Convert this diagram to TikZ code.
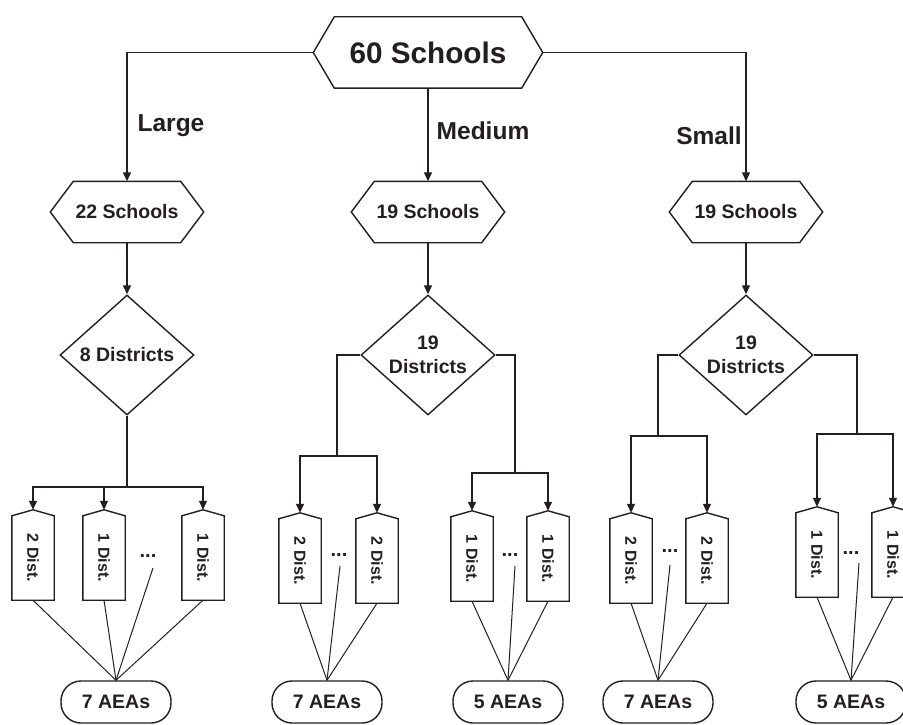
\documentclass[tikz,border=0pt]{standalone}
\usepackage{fontspec}
\setmainfont{Liberation Sans}
\usetikzlibrary{arrows.meta,shapes.geometric,calc}
\definecolor{ink}{RGB}{35,31,32}
\newcommand\hexoutline[2]{\draw[shapeline] (#1.north west) -- (#1.north east) -- ([xshift=#2]#1.east) -- (#1.south east) -- (#1.south west) -- ([xshift=-#2]#1.west) -- cycle;}
\newcommand\distoutline[1]{\draw[shapeline] (#1.north west) -- ([yshift=6pt]#1.north) -- (#1.north east) -- (#1.south east) -- (#1.south west) -- cycle;}
\begin{document}
\begin{tikzpicture}[x=1pt,y=-1pt,
  every node/.style={text=ink},
  conn/.style={line width=1.3pt, draw=ink},
  arr/.style={conn, -{Triangle[length=9pt,width=8pt]}},
  thinline/.style={line width=1pt, draw=ink},
  shapeline/.style={line width=1.4pt, draw=ink},
  hexbig/.style={inner sep=0, minimum width=187pt, minimum height=71pt, font=\fontsize{29.7}{34}\selectfont\bfseries},
  hexsmall/.style={inner sep=0, minimum width=107pt, minimum height=61pt, font=\fontsize{19.5}{24}\selectfont\bfseries},
  dia/.style={diamond, shapeline, inner sep=0, minimum width=134pt, minimum height=120pt, align=center, font=\fontsize{19.5}{24}\selectfont\bfseries},
  distbox/.style={inner sep=0, minimum width=42pt, minimum height=84pt, font=\fontsize{16}{19}\selectfont\bfseries},
  aea/.style={shapeline, rounded corners=20pt, minimum width=110pt, minimum height=42pt, inner sep=0, font=\fontsize{19.5}{24}\selectfont\bfseries},
  lab/.style={inner sep=0, font=\fontsize{24.5}{28}\selectfont\bfseries},
  dotsnode/.style={inner sep=0, font=\fontsize{20}{22}\selectfont\bfseries}
]
\useasboundingbox[fill=white] (0,0) rectangle (903,725);

% top
\node[hexbig] (top) at (428,52.5) {60 Schools};
\hexoutline{top}{21pt}
\coordinate (topL) at ([xshift=-21pt]top.west);
\coordinate (topR) at ([xshift=21pt]top.east);

% school hexagons
\node[hexsmall] (h1) at (127,212) {22 Schools};
\node[hexsmall] (h2) at (428,212) {19 Schools};
\node[hexsmall] (h3) at (746,212) {19 Schools};
\hexoutline{h1}{23pt}
\hexoutline{h2}{23pt}
\hexoutline{h3}{23pt}

% labels
\node[lab] (lLarge) at (171,126) {Large};
\node[lab] (lMedium) at (483,131) {Medium};
\node[lab] (lSmall) at (709,136) {Small};

% diamonds
\node[dia, draw] (d1) at (127,355) {8 Districts};
\node[dia, draw] (d2) at (428,355) {19\\Districts};
\node[dia, draw] (d3) at (746,355) {19\\Districts};

% district boxes
\node[distbox] (b11) at (33,558) {\rotatebox{-90}{2 Dist.}};
\node[distbox] (b12) at (104,558) {\rotatebox{-90}{1 Dist.}};
\node[distbox] (b13) at (203,558) {\rotatebox{-90}{1 Dist.}};
\node[distbox] (b21) at (300,561) {\rotatebox{-90}{2 Dist.}};
\node[distbox] (b22) at (377,561) {\rotatebox{-90}{2 Dist.}};
\node[distbox] (b31) at (472,559) {\rotatebox{-90}{1 Dist.}};
\node[distbox] (b32) at (548,559) {\rotatebox{-90}{1 Dist.}};
\node[distbox] (b41) at (631,561) {\rotatebox{-90}{2 Dist.}};
\node[distbox] (b42) at (707,561) {\rotatebox{-90}{2 Dist.}};
\node[distbox] (b51) at (817,555) {\rotatebox{-90}{1 Dist.}};
\node[distbox] (b52) at (893,555) {\rotatebox{-90}{1 Dist.}};
\foreach \b in {b11,b12,b13,b21,b22,b31,b32,b41,b42,b51,b52}{\distoutline{\b}}

% dots
\node[dotsnode] (dt1) at (148,556) {...};
\node[dotsnode] (dt2) at (339,555) {...};
\node[dotsnode] (dt3) at (510,555) {...};
\node[dotsnode] (dt4) at (670,551) {...};
\node[dotsnode] (dt5) at (851,553) {...};
\coordinate (e1) at (153,568);
\coordinate (e2) at (340,566);
\coordinate (e3) at (515,566);
\coordinate (e4) at (670,565);
\coordinate (e5) at (859,563);

% AEAs
\node[aea, draw] (a1) at (116,702) {7 AEAs};
\node[aea, draw] (a2) at (327,702) {7 AEAs};
\node[aea, draw] (a3) at (508,702) {5 AEAs};
\node[aea, draw] (a4) at (658,702) {7 AEAs};
\node[aea, draw] (a5) at (851,702) {5 AEAs};

% top connectors
\draw[arr] (topL) -| (h1.north);
\draw[arr] (topR) -| (h3.north);
\draw[arr] (top.south) -- (h2.north);
\draw[arr] (h1.south) -- (d1.north);
\draw[arr] (h2.south) -- (d2.north);
\draw[arr] (h3.south) -- (d3.north);

% junctions
\coordinate (j1) at (127,487);
\coordinate (j2) at (337,456);
\coordinate (j3) at (515,473);
\coordinate (j4) at (658,436);
\coordinate (j5) at (857,434);
\draw[conn] (d1.south) -- (j1);
\draw[conn] (d2.west) -| (j2);
\draw[conn] (d2.east) -| (j3);
\draw[conn] (d3.west) -| (j4);
\draw[conn] (d3.east) -| (j5);
\draw[arr] (j1) -| ([yshift=6pt]b11.north);
\draw[arr] (j1) -| ([yshift=6pt]b12.north);
\draw[arr] (j1) -| ([yshift=6pt]b13.north);
\draw[arr] (j2) -| ([yshift=6pt]b21.north);
\draw[arr] (j2) -| ([yshift=6pt]b22.north);
\draw[arr] (j3) -| ([yshift=6pt]b31.north);
\draw[arr] (j3) -| ([yshift=6pt]b32.north);
\draw[arr] (j4) -| ([yshift=6pt]b41.north);
\draw[arr] (j4) -| ([yshift=6pt]b42.north);
\draw[arr] (j5) -| ([yshift=6pt]b51.north);
\draw[arr] (j5) -| ([yshift=6pt]b52.north);

% lines to AEAs
\draw[thinline] (b11.south) -- (a1.north);
\draw[thinline] (b12.south) -- (a1.north);
\draw[thinline] (e1) -- (a1.north);
\draw[thinline] (b13.south) -- (a1.north);
\draw[thinline] (b21.south) -- (a2.north);
\draw[thinline] (e2) -- (a2.north);
\draw[thinline] (b22.south) -- (a2.north);
\draw[thinline] (b31.south) -- (a3.north);
\draw[thinline] (e3) -- (a3.north);
\draw[thinline] (b32.south) -- (a3.north);
\draw[thinline] (b41.south) -- (a4.north);
\draw[thinline] (e4) -- (a4.north);
\draw[thinline] (b42.south) -- (a4.north);
\draw[thinline] (b51.south) -- (a5.north);
\draw[thinline] (e5) -- (a5.north);
\draw[thinline] (b52.south) -- (a5.north);
\end{tikzpicture}
\end{document}
